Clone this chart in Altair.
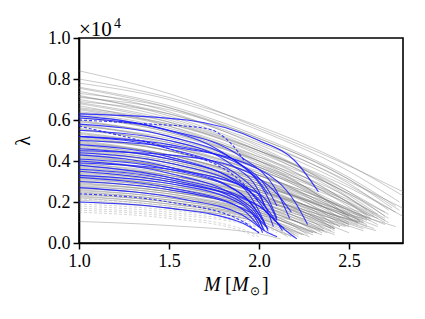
import altair as alt
import pandas as pd

# lambda values are in units of 1e4
gray_solid = [
    [(1.0,0.84),(1.6,0.70),(2.0,0.56),(2.44,0.40),(2.8,0.25)],
    [(1.0,0.80),(1.5,0.71),(2.0,0.57),(2.5,0.38),(2.8,0.23)],
    [(1.0,0.78),(1.5,0.70),(2.0,0.55),(2.5,0.35),(2.78,0.20)],
    [(1.0,0.76),(1.5,0.67),(2.0,0.52),(2.5,0.32),(2.76,0.18)],
    [(1.0,0.74),(1.5,0.64),(2.0,0.47),(2.4,0.28),(2.60,0.16)],
    [(1.0,0.73),(1.5,0.66),(2.0,0.51),(2.5,0.31),(2.74,0.17)],
    [(1.0,0.72),(1.5,0.62),(2.0,0.46),(2.45,0.26),(2.66,0.14)],
    [(1.0,0.71),(1.5,0.65),(2.0,0.51),(2.5,0.31),(2.78,0.16)],
    [(1.0,0.70),(1.5,0.61),(2.0,0.45),(2.4,0.27),(2.64,0.14)],
    [(1.0,0.69),(1.5,0.63),(2.0,0.49),(2.5,0.29),(2.72,0.16)],
    [(1.0,0.68),(1.5,0.59),(2.0,0.43),(2.4,0.25),(2.60,0.14)],
    [(1.0,0.67),(1.5,0.57),(2.0,0.40),(2.3,0.25),(2.50,0.13)],
    [(1.0,0.66),(1.5,0.59),(2.0,0.45),(2.5,0.25),(2.70,0.13)],
    [(1.0,0.65),(1.5,0.57),(2.0,0.42),(2.4,0.25),(2.62,0.12)],
    [(1.0,0.64),(1.5,0.58),(2.0,0.45),(2.5,0.27),(2.80,0.13)],
    [(1.0,0.63),(1.5,0.55),(2.0,0.40),(2.4,0.23),(2.60,0.12)],
    [(1.0,0.62),(1.5,0.54),(2.0,0.39),(2.3,0.25),(2.50,0.13)],
    [(1.0,0.61),(1.5,0.55),(2.0,0.42),(2.5,0.24),(2.72,0.12)],
    [(1.0,0.60),(1.5,0.52),(2.0,0.37),(2.4,0.20),(2.56,0.11)],
    [(1.0,0.59),(1.5,0.53),(2.0,0.40),(2.5,0.22),(2.70,0.11)],
    [(1.0,0.58),(1.5,0.50),(2.0,0.36),(2.35,0.21),(2.52,0.11)],
    [(1.0,0.57),(1.5,0.51),(2.0,0.38),(2.5,0.21),(2.70,0.12)],
    [(1.0,0.56),(1.5,0.48),(2.0,0.34),(2.3,0.21),(2.45,0.12)],
    [(1.0,0.55),(1.5,0.49),(2.0,0.37),(2.5,0.20),(2.72,0.10)],
    [(1.0,0.54),(1.5,0.47),(2.0,0.33),(2.4,0.18),(2.58,0.10)],
    [(1.0,0.53),(1.5,0.47),(2.0,0.35),(2.5,0.19),(2.70,0.10)],
    [(1.0,0.52),(1.5,0.45),(2.0,0.31),(2.3,0.18),(2.44,0.10)],
    [(1.0,0.51),(1.5,0.45),(2.0,0.33),(2.45,0.18),(2.66,0.09)],
    [(1.0,0.50),(1.5,0.43),(2.0,0.30),(2.35,0.17),(2.50,0.10)],
    [(1.0,0.49),(1.5,0.43),(2.0,0.31),(2.5,0.16),(2.70,0.09)],
    [(1.0,0.48),(1.5,0.41),(2.0,0.28),(2.3,0.16),(2.42,0.09)],
    [(1.0,0.47),(1.5,0.41),(2.0,0.29),(2.4,0.16),(2.60,0.09)],
    [(1.0,0.46),(1.5,0.40),(2.0,0.28),(2.45,0.15),(2.66,0.08)],
    [(1.0,0.45),(1.5,0.39),(2.0,0.26),(2.3,0.15),(2.45,0.08)],
    [(1.0,0.44),(1.5,0.39),(2.0,0.28),(2.5,0.15),(2.76,0.08)],
    [(1.0,0.43),(1.5,0.37),(2.0,0.25),(2.3,0.14),(2.42,0.08)],
    [(1.0,0.42),(1.5,0.37),(2.0,0.26),(2.4,0.14),(2.60,0.08)],
    [(1.0,0.41),(1.5,0.35),(2.0,0.24),(2.3,0.13),(2.42,0.07)],
    [(1.0,0.40),(1.5,0.35),(2.0,0.25),(2.45,0.13),(2.64,0.07)],
    [(1.0,0.39),(1.5,0.33),(2.0,0.22),(2.25,0.13),(2.36,0.07)],
    [(1.0,0.38),(1.5,0.33),(2.0,0.23),(2.4,0.12),(2.58,0.07)],
    [(1.0,0.37),(1.5,0.32),(2.0,0.21),(2.3,0.12),(2.42,0.06)],
    [(1.0,0.36),(1.5,0.31),(2.0,0.22),(2.45,0.11),(2.65,0.06)],
    [(1.0,0.35),(1.5,0.30),(2.0,0.20),(2.25,0.11),(2.36,0.06)],
    [(1.0,0.34),(1.5,0.30),(2.0,0.21),(2.4,0.11),(2.58,0.06)],
    [(1.0,0.33),(1.5,0.28),(2.0,0.18),(2.2,0.11),(2.32,0.05)],
    [(1.0,0.32),(1.5,0.28),(2.0,0.19),(2.35,0.10),(2.50,0.05)],
    [(1.0,0.31),(1.5,0.27),(2.0,0.18),(2.3,0.09),(2.42,0.05)],
    [(1.0,0.30),(1.5,0.26),(2.0,0.17),(2.25,0.09),(2.38,0.05)],
    [(1.0,0.29),(1.5,0.25),(2.0,0.16),(2.2,0.09),(2.32,0.05)],
    [(1.0,0.28),(1.5,0.24),(2.0,0.15),(2.3,0.08),(2.42,0.04)],
    [(1.0,0.27),(1.5,0.23),(2.0,0.15),(2.2,0.08),(2.30,0.05)],
    [(1.0,0.26),(1.5,0.22),(2.0,0.14),(2.25,0.07),(2.35,0.04)],
    [(1.0,0.25),(1.5,0.21),(2.0,0.13),(2.2,0.07),(2.30,0.04)],
    [(1.0,0.24),(1.5,0.20),(2.0,0.12),(2.15,0.07),(2.25,0.04)],
    [(1.0,0.23),(1.5,0.19),(2.0,0.12),(2.2,0.06),(2.28,0.03)],
    [(1.0,0.22),(1.5,0.18),(2.0,0.11),(2.15,0.06),(2.22,0.03)],
    [(1.0,0.21),(1.5,0.17),(2.0,0.10),(2.1,0.06),(2.20,0.03)],
    [(1.0,0.20),(1.5,0.17),(2.0,0.10),(2.1,0.06),(2.16,0.03)],
    [(1.0,0.105),(1.5,0.085),(2.0,0.045),(2.12,0.02)],
    [(1.0,0.755),(1.5,0.66),(2.0,0.50),(2.5,0.30),(2.80,0.17)],
    [(1.0,0.715),(1.5,0.63),(2.0,0.48),(2.5,0.28),(2.76,0.15)],
    [(1.0,0.685),(1.5,0.60),(2.0,0.45),(2.5,0.25),(2.70,0.15)],
    [(1.0,0.655),(1.5,0.58),(2.0,0.44),(2.5,0.24),(2.72,0.14)],
    [(1.0,0.635),(1.5,0.56),(2.0,0.41),(2.45,0.22),(2.64,0.13)],
    [(1.0,0.615),(1.5,0.54),(2.0,0.40),(2.45,0.21),(2.62,0.13)],
    [(1.0,0.595),(1.5,0.52),(2.0,0.38),(2.4,0.21),(2.60,0.12)],
    [(1.0,0.575),(1.5,0.50),(2.0,0.37),(2.4,0.20),(2.58,0.12)],
    [(1.0,0.555),(1.5,0.49),(2.0,0.36),(2.45,0.18),(2.62,0.12)],
    [(1.0,0.535),(1.5,0.47),(2.0,0.34),(2.4,0.18),(2.58,0.11)],
    [(1.0,0.515),(1.5,0.45),(2.0,0.33),(2.4,0.17),(2.56,0.11)],
    [(1.0,0.505),(1.5,0.45),(2.0,0.33),(2.5,0.17),(2.66,0.12)],
    [(1.0,0.495),(1.5,0.43),(2.0,0.31),(2.4,0.16),(2.55,0.10)],
    [(1.0,0.485),(1.5,0.43),(2.0,0.31),(2.45,0.16),(2.60,0.11)],
    [(1.0,0.475),(1.5,0.42),(2.0,0.30),(2.4,0.16),(2.55,0.10)],
    [(1.0,0.465),(1.5,0.41),(2.0,0.29),(2.35,0.16),(2.50,0.09)],
    [(1.0,0.455),(1.5,0.40),(2.0,0.29),(2.45,0.15),(2.62,0.11)],
    [(1.0,0.445),(1.5,0.39),(2.0,0.27),(2.35,0.15),(2.50,0.09)],
    [(1.0,0.435),(1.5,0.38),(2.0,0.27),(2.4,0.14),(2.56,0.10)],
    [(1.0,0.425),(1.5,0.37),(2.0,0.26),(2.35,0.14),(2.48,0.09)],
    [(1.0,0.415),(1.5,0.37),(2.0,0.26),(2.4,0.14),(2.58,0.10)],
    [(1.0,0.405),(1.5,0.35),(2.0,0.24),(2.3,0.13),(2.45,0.08)],
    [(1.0,0.395),(1.5,0.35),(2.0,0.25),(2.4,0.13),(2.55,0.09)],
    [(1.0,0.385),(1.5,0.34),(2.0,0.23),(2.3,0.13),(2.42,0.07)],
    [(1.0,0.375),(1.5,0.33),(2.0,0.23),(2.35,0.12),(2.50,0.08)],
    [(1.0,0.365),(1.5,0.32),(2.0,0.22),(2.3,0.12),(2.42,0.07)],
    [(1.0,0.355),(1.5,0.31),(2.0,0.21),(2.35,0.11),(2.48,0.08)],
    [(1.0,0.345),(1.5,0.30),(2.0,0.20),(2.3,0.11),(2.40,0.07)],
    [(1.0,0.335),(1.5,0.29),(2.0,0.20),(2.3,0.10),(2.42,0.07)],
    [(1.0,0.325),(1.5,0.28),(2.0,0.19),(2.25,0.10),(2.36,0.06)],
    [(1.0,0.315),(1.5,0.27),(2.0,0.18),(2.3,0.10),(2.40,0.06)],
    [(1.0,0.305),(1.5,0.26),(2.0,0.17),(2.25,0.09),(2.34,0.06)],
    [(1.0,0.295),(1.5,0.25),(2.0,0.17),(2.25,0.09),(2.35,0.05)],
    [(1.0,0.285),(1.5,0.25),(2.0,0.16),(2.2,0.09),(2.30,0.05)],
    [(1.0,0.275),(1.5,0.24),(2.0,0.15),(2.2,0.08),(2.28,0.05)],
    [(1.0,0.265),(1.5,0.23),(2.0,0.14),(2.2,0.08),(2.27,0.04)],
    [(1.0,0.255),(1.5,0.22),(2.0,0.14),(2.15,0.08),(2.24,0.04)],
    [(1.0,0.245),(1.5,0.21),(2.0,0.13),(2.15,0.07),(2.22,0.04)],
    [(1.0,0.235),(1.5,0.20),(2.0,0.12),(2.15,0.07),(2.20,0.04)],
    [(1.0,0.225),(1.5,0.19),(2.0,0.11),(2.1,0.07),(2.18,0.03)],
]

gray_dashed = [
    [(1.0,0.215),(1.5,0.18),(2.0,0.10),(2.15,0.04)],
    [(1.0,0.19),(1.5,0.16),(2.0,0.09),(2.10,0.05)],
    [(1.0,0.18),(1.5,0.15),(2.0,0.08),(2.08,0.04)],
    [(1.0,0.17),(1.5,0.14),(2.0,0.075),(2.05,0.04)],
    [(1.0,0.16),(1.5,0.13),(1.9,0.07),(2.00,0.03)],
    [(1.0,0.15),(1.5,0.12),(1.9,0.06),(1.98,0.03)],
]

blue_solid = [
    [(1.0,0.63),(1.6,0.60),(2.0,0.50),(2.2,0.40),(2.33,0.25)],
    [(1.0,0.62),(1.4,0.57),(1.8,0.44),(2.0,0.30),(2.05,0.24)],
    [(1.0,0.61),(1.5,0.55),(1.9,0.42),(2.1,0.25),(2.17,0.12)],
    [(1.0,0.58),(1.5,0.52),(1.9,0.38),(2.05,0.22),(2.10,0.12)],
    [(1.0,0.55),(1.5,0.50),(1.85,0.38),(2.0,0.25),(2.03,0.18)],
    [(1.0,0.52),(1.5,0.46),(1.9,0.32),(2.05,0.15),(2.08,0.08)],
    [(1.0,0.52),(1.5,0.48),(1.9,0.38),(2.05,0.26),(2.10,0.18)],
    [(1.0,0.50),(1.5,0.47),(2.0,0.36),(2.2,0.20),(2.27,0.09)],
    [(1.0,0.48),(1.5,0.42),(1.9,0.28),(2.02,0.12),(2.05,0.06)],
    [(1.0,0.46),(1.5,0.41),(1.9,0.29),(2.05,0.14)],
    [(1.0,0.45),(1.5,0.43),(1.9,0.36),(2.1,0.24),(2.18,0.15)],
    [(1.0,0.44),(1.5,0.39),(1.95,0.25),(2.1,0.10),(2.13,0.06)],
    [(1.0,0.43),(1.5,0.37),(1.9,0.24),(2.0,0.14),(2.04,0.08)],
    [(1.0,0.41),(1.5,0.36),(1.9,0.24),(2.03,0.10)],
    [(1.0,0.40),(1.5,0.34),(1.9,0.21),(2.0,0.12),(2.02,0.07)],
    [(1.0,0.39),(1.5,0.36),(2.0,0.24),(2.08,0.15),(2.10,0.11)],
    [(1.0,0.38),(1.5,0.32),(2.0,0.18),(2.15,0.06),(2.21,0.02)],
    [(1.0,0.36),(1.5,0.31),(1.9,0.20),(2.0,0.11),(2.03,0.06)],
    [(1.0,0.35),(1.5,0.30),(2.0,0.18),(2.1,0.10),(2.14,0.07)],
    [(1.0,0.33),(1.5,0.29),(1.9,0.19),(2.0,0.09),(2.02,0.05)],
    [(1.0,0.32),(1.5,0.27),(1.9,0.17),(2.0,0.08)],
    [(1.0,0.30),(1.5,0.26),(1.95,0.15),(2.05,0.07)],
    [(1.0,0.27),(1.6,0.21),(1.9,0.14),(2.05,0.05),(2.10,0.03)],
    [(1.0,0.20),(1.5,0.17),(1.9,0.10),(2.00,0.05)],
]

blue_dashed = [
    [(1.0,0.60),(1.4,0.58),(1.7,0.56),(1.85,0.48),(1.92,0.40)],
    [(1.0,0.57),(1.2,0.53),(1.5,0.46),(1.9,0.30),(2.00,0.20)],
    [(1.0,0.24),(1.5,0.20),(1.9,0.11),(2.00,0.05)],
]

x_ticks = [1.0, 1.5, 2.0, 2.5]
y_ticks = [0.0, 0.2, 0.4, 0.6, 0.8, 1.0]


def to_df(curves, prefix):
    rows = []
    for i, c in enumerate(curves):
        for j, (m, l) in enumerate(c):
            rows.append({"id": f"{prefix}{i}", "M": m, "lam": l, "k": j})
    return pd.DataFrame(rows)


FONT = "Liberation Serif"
xs = alt.Scale(domain=[1.0, 2.8], nice=False, zero=False)
ys = alt.Scale(domain=[0.0, 1.0], nice=False)

x_enc = alt.X("M:Q", scale=xs, axis=alt.Axis(values=x_ticks, format=".1f", title=None,
                                              labelFont=FONT, labelFontSize=18,
                                              labelFlush=False))
y_enc = alt.Y("lam:Q", scale=ys, axis=alt.Axis(values=y_ticks, format=".1f", title="λ",
                                                labelFont=FONT, labelFontSize=18,
                                                labelFlush=False,
                                                titleFont=FONT, titleFontSize=20,
                                                titleFontWeight="normal"))


def lines(df, color, opacity, dash=None, width=1.0):
    kw = dict(color=color, opacity=opacity, strokeWidth=width, interpolate="monotone", clip=True)
    if dash:
        kw["strokeDash"] = dash
    return alt.Chart(df).mark_line(**kw).encode(
        x=x_enc, y=y_enc, detail="id:N", order="k:Q")


layers = [
    lines(to_df(gray_solid, "gs"), "#7a7a7a", 0.4),
    lines(to_df(gray_dashed, "gd"), "#9a9a9a", 0.4, dash=[3, 2]),
    lines(to_df(blue_solid, "bs"), "#1a1aff", 0.85, width=1.1),
    lines(to_df(blue_dashed, "bd"), "#1a1aff", 0.85, dash=[3, 2], width=1.1),
]


def txt(s, x, y, size, style="normal"):
    return alt.Chart(pd.DataFrame({"t": [s]})).mark_text(
        font=FONT, align="left", baseline="alphabetic", color="black", fontStyle=style,
        fontSize=size,
    ).encode(x=alt.value(x), y=alt.value(y), text="t:N", size=alt.value(size))


annot = [
    txt("×10", 0, -2, 21),
    txt("4", 35, -10, 14),
    txt("M", 125, 253, 20, "italic"),
    txt("[", 146, 253, 20),
    txt("M", 153, 253, 20, "italic"),
    txt("⊙", 171, 257, 12),
    txt("]", 183, 253, 20),
]

chart = alt.layer(*layers, *annot).properties(
    width=324, height=205,
    padding={"left": 71, "top": 30, "right": 14, "bottom": 60},
    autosize=alt.AutoSizeParams(type="none"),
).configure_view(
    stroke="black", strokeWidth=1.6
).configure_axis(
    labelFont=FONT, titleFont=FONT, labelFontSize=18, titleFontSize=20,
    labelColor="black", titleColor="black",
    domainColor="black", domainWidth=1.6, tickColor="black", tickWidth=1.5, tickSize=6,
    grid=False, labelPadding=3,
).configure_axisY(titlePadding=14)

chart.save("out.html", embed_options={"renderer": "svg", "actions": False})
